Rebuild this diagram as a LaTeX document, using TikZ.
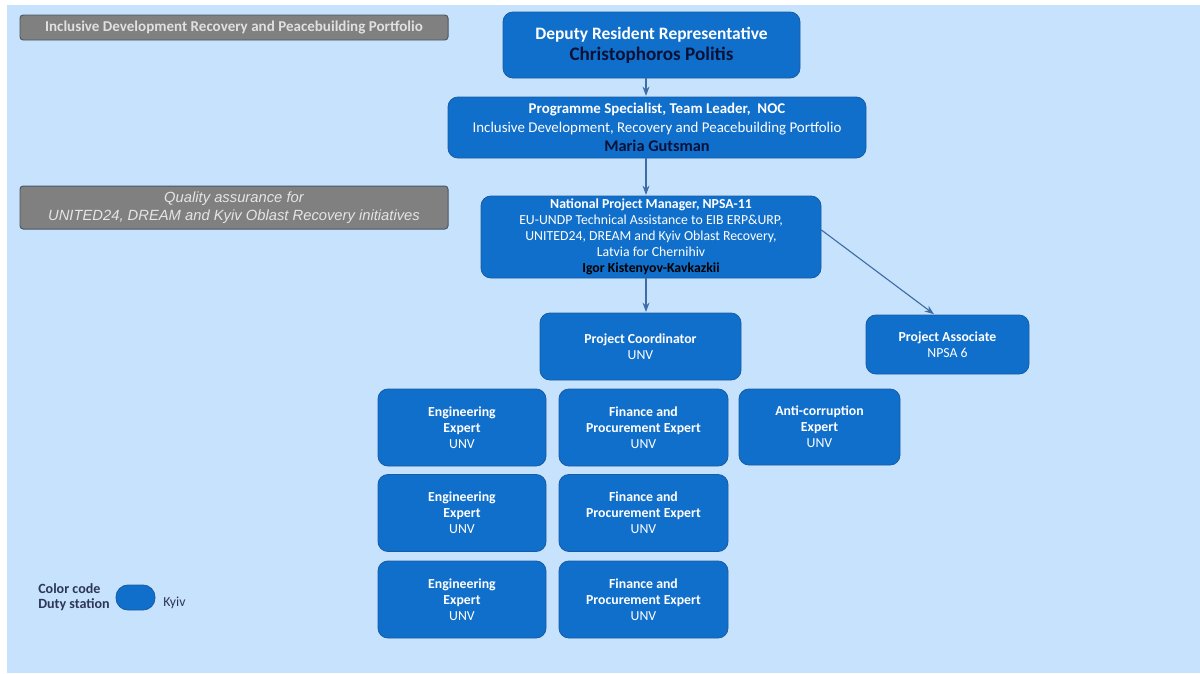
\documentclass[tikz,border=0pt]{standalone}
\usepackage{fontspec}
\setmainfont{Carlito}
\newfontfamily\arialfont{Liberation Sans}
\usetikzlibrary{arrows.meta}
\definecolor{bgblue}{RGB}{199,226,252}
\definecolor{boxblue}{RGB}{16,111,203}
\definecolor{edgeblue}{RGB}{24,92,165}
\definecolor{namenavy}{RGB}{8,18,56}
\definecolor{tagray}{RGB}{128,128,128}
\definecolor{tagedge}{RGB}{72,86,102}
\definecolor{arrowblue}{RGB}{62,108,168}
\begin{document}
\begin{tikzpicture}[x=0.025cm, y=-0.025cm, line join=round, line cap=round, >=Stealth,
	post/.style 2 args={draw=edgeblue, line width=0.6pt, fill=boxblue, rounded corners=0.25cm,
		text=white, align=center, inner sep=0pt, minimum width=#1*\unitpx, minimum height=#2*\unitpx},
	tag/.style 2 args={draw=tagedge, line width=0.7pt, fill=tagray, rounded corners=0.08cm,
		text=black!12, align=center, inner sep=0pt, minimum width=#1*\unitpx, minimum height=#2*\unitpx},
	link/.style={draw=arrowblue, line width=0.8pt, ->, shorten >=0.5pt}]
	\def\unitpx{0.025cm}
	\def\fs{\fontsize{9.8}{11.4}\selectfont}
	\useasboundingbox (0,0) rectangle (1200,673);
	\fill[bgblue] (7,5) rectangle (1200,673);
	\path
	(646,0) coordinate (spine)
	(234,27.5) coordinate (T)
	(234,207.5) coordinate (Q)
	(651.5,45) coordinate (D)
	(657,127.5) coordinate (P)
	(651,237) coordinate (M)
	(640.5,346.5) coordinate (C)
	(947.5,344.5) coordinate (A)
	;
	% grey tags on the left
	\node[tag={428}{25}, font=\fontsize{10.7}{12}\selectfont\bfseries] (title) at (T)
		{Inclusive Development Recovery and Peacebuilding Portfolio};
	\node[tag={428}{43}, font=\arialfont\fontsize{10.5}{12.6}\selectfont\itshape, text=black!10] (qa) at (Q)
		{Quality assurance for\\UNITED24, DREAM and Kyiv Oblast Recovery initiatives};
	
	% top of the chart
	\node[post={297}{66}, font=\fontsize{12.4}{14.9}\selectfont\bfseries] (drr) at (D)
		{Deputy Resident Representative\\{\fontsize{13.6}{14.9}\selectfont\color{namenavy}Christophoros Politis}};
	\node[post={418}{61}, font=\fontsize{10.6}{13.5}\selectfont] (ps) at (P)
		{{\bfseries Programme Specialist, Team Leader,\ \ NOC}\\
		Inclusive Development,\ Recovery and Peacebuilding Portfolio\\
		\textcolor{namenavy}{\fontsize{11.6}{13.5}\selectfont\bfseries Maria Gutsman}};
	\node[post={340}{82}, font=\fs] (npm) at (M)
		{{\bfseries National Project Manager, NPSA-11}\\
		EU-UNDP Technical Assistance to EIB ERP\&URP,\\
		UNITED24,\ DREAM and Kyiv Oblast Recovery,\\
		Latvia for Chernihiv\\
		\textcolor{black}{\bfseries Igor Kistenyov-Kavkazkii}};
	\node[post={201}{67}, font=\fs] (pc) at (C) {{\bfseries Project Coordinator}\\UNV};
	\node[post={163}{59}, font=\fs] (pa) at (A) {{\bfseries Project Associate}\\NPSA 6};
	
	% experts
	\foreach \r/\y in {1/427.5, 2/513, 3/599.5} {
		\node[post={168}{77}, font=\fs] (eng\r) at (462,\y) {{\bfseries Engineering}\\{\bfseries Expert}\\UNV};
		\node[post={169}{77}, font=\fs] (fin\r) at (643.5,\y) {{\bfseries Finance and}\\{\bfseries Procurement Expert}\\UNV};
	}
	\node[post={161}{76}, font=\fs] (anti) at (819.5,427) {{\bfseries Anti-corruption}\\{\bfseries Expert}\\UNV};
	
	% legend
	\node[anchor=west, align=left, inner sep=0pt, text=namenavy!85, font=\fontsize{10}{10.8}\selectfont\bfseries] (code) at (38,597.5)
		{Color code\\Duty station};
	\node[post={39}{25}, rounded corners=0.3cm] (pill) at (135.5,597.5) {};
	\node[anchor=west, inner sep=0pt, text=namenavy!85, font=\fontsize{9.8}{10}\selectfont] (kyiv) at (163,603) {Kyiv};
	
	% links
	\draw[link] (drr.south -| spine) -- (ps.north -| spine);
	\draw[link] (ps.south -| spine) -- (npm.north -| spine);
	\draw[link] (npm.south -| spine) -- (pc.north -| spine);
	\draw[link] ([yshift=7*\unitpx]npm.east) -- ([xshift=-13*\unitpx]pa.north);
\end{tikzpicture}
\end{document}
